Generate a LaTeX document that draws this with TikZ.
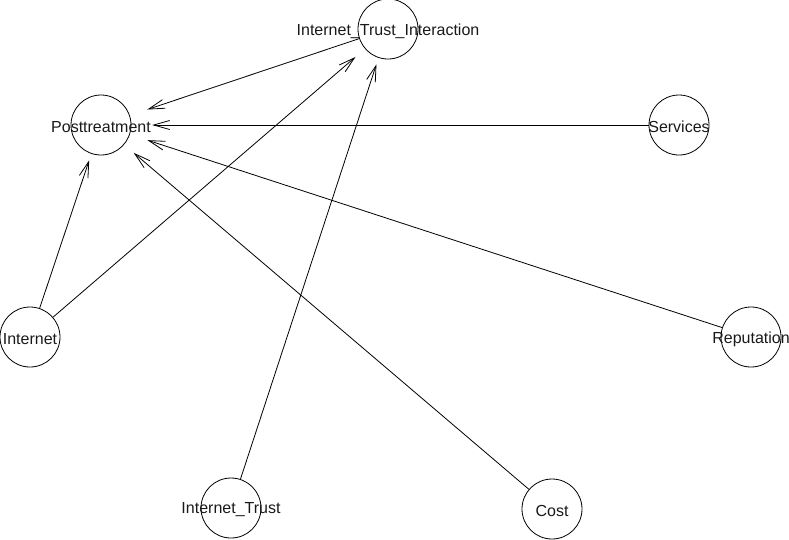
\documentclass[tikz,border=0pt]{standalone}
\usepackage{fontspec}
\setmainfont{Liberation Sans}
\usetikzlibrary{arrows.meta,shapes.geometric}
\begin{document}
\begin{tikzpicture}[x=1pt,y=-1pt,
  vtx/.style={circle,draw=black,line width=0.8pt,minimum size=60pt,inner sep=0pt,
    label={[font=\fontsize{16}{19}\selectfont,text=black!90,yshift=-2pt]center:#1}},
  clipzone/.style={ellipse,draw=none,minimum width=102pt,minimum height=72pt,inner sep=0pt},
  edge/.style={line width=0.8pt,-{Straight Barb[length=16pt,width=9pt,line width=0.8pt]}}]
\useasboundingbox (0,0) rectangle (789,539);
\node[vtx=Internet\_Trust\_Interaction] (iti) at (388,29) {};
\node[vtx=Posttreatment] (post) at (101,125) {};
\node[vtx=Services] (serv) at (679,125) {};
\node[vtx=Internet] (inet) at (30,337) {};
\node[vtx=Reputation] (rep) at (751,337) {};
\node[vtx=Internet\_Trust] (it) at (231,508) {};
\node[vtx=Cost] (cost) at (552,509) {};
\node[clipzone] (iti-e) at (iti) {};
\node[clipzone] (post-e) at (post) {};
\draw[edge] (iti) -- (post-e);
\draw[edge] (serv) -- (post-e);
\draw[edge] (rep) -- (post-e);
\draw[edge] (cost) -- (post-e);
\draw[edge] (inet) -- (post-e);
\draw[edge] (inet) -- (iti-e);
\draw[edge] (it) -- (iti-e);
\end{tikzpicture}
\end{document}
